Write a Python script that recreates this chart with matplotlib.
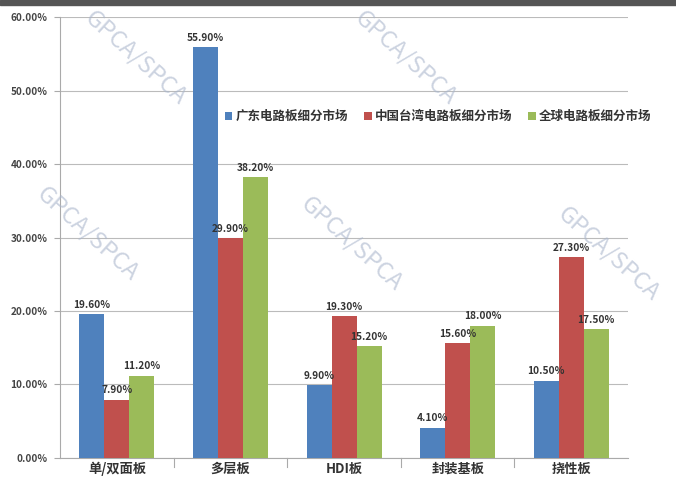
import matplotlib
matplotlib.use("Agg")
import matplotlib.pyplot as plt
import numpy as np
from matplotlib.ticker import FuncFormatter, MultipleLocator

plt.rcParams['font.family'] = ['Noto Sans CJK SC', 'DejaVu Sans']

categories = ['单/双面板', '多层板', 'HDI板', '封装基板', '挠性板']
series_names = ['广东电路板细分市场', '中国台湾电路板细分市场', '全球电路板细分市场']
guangdong = [19.6, 55.9, 9.9, 4.1, 10.5]
taiwan = [7.9, 29.9, 19.3, 15.6, 27.3]
world = [11.2, 38.2, 15.2, 18.0, 17.5]

colors = ['#4F81BD', '#C0504D', '#9BBB59']

fig = plt.figure(figsize=(6.76, 4.78), dpi=100)
ax = fig.add_axes([0.089, 0.042, 0.840, 0.922])

x = np.arange(len(categories))
w = 0.22
for i, (vals, name, c) in enumerate(zip([guangdong, taiwan, world], series_names, colors)):
    pos = x + (i - 1) * w
    ax.bar(pos, vals, w, color=c, label=name, zorder=3)
    for px, v in zip(pos, vals):
        ax.text(px, v + 0.6, f'{v:.2f}%', ha='center', va='bottom', fontsize=7.3,
                fontweight='bold', color='#333333', zorder=4)

ax.set_xlim(-0.5, len(categories) - 0.5)
ax.set_ylim(0, 60)
ax.yaxis.set_major_locator(MultipleLocator(10))
ax.yaxis.set_major_formatter(FuncFormatter(lambda v, p: f'{v:.2f}%'))
ax.grid(axis='y', color='#bbbbbb', linewidth=0.8, zorder=0)
ax.set_xticks(x)
ax.set_xticklabels(categories, fontsize=9.5, fontweight='bold', color='#333333')
for lbl in ax.get_yticklabels():
    lbl.set_fontsize(7.2)
    lbl.set_fontweight('bold')
    lbl.set_color('#444444')
ax.tick_params(axis='y', length=4, color='#aaaaaa', pad=5)
ax.tick_params(axis='x', length=0, pad=3)
for b in np.arange(0.5, len(categories) - 0.5, 1.0):
    ax.plot([b, b], [0, -1.2], color='#aaaaaa', lw=0.8, clip_on=False)
for s in ['top', 'right']:
    ax.spines[s].set_visible(False)
ax.spines['left'].set_color('#aaaaaa')
ax.spines['bottom'].set_color('#aaaaaa')

leg = ax.legend(loc='upper left', bbox_to_anchor=(0.27, 0.815), ncol=3, frameon=False,
                fontsize=9, handlelength=0.6, handleheight=0.6, handletextpad=0.25,
                columnspacing=1.3)
for t in leg.get_texts():
    t.set_fontweight('bold')
    t.set_color('#333333')

# watermark text
wm = dict(color='#aab6cc', alpha=0.6, fontsize=17, rotation=-42, ha='center',
          va='center', zorder=5)
for fx, fy in [(0.13, 0.51), (0.52, 0.49), (0.90, 0.47), (0.20, 0.88), (0.60, 0.88)]:
    fig.text(fx, fy, 'GPCA/SPCA', **wm)

# header band
fig.patches.append(plt.Rectangle((0, 0.99), 1, 0.01, transform=fig.transFigure,
                                 color='#555555', zorder=10))

fig.savefig('out.png', dpi=100, facecolor='white')
